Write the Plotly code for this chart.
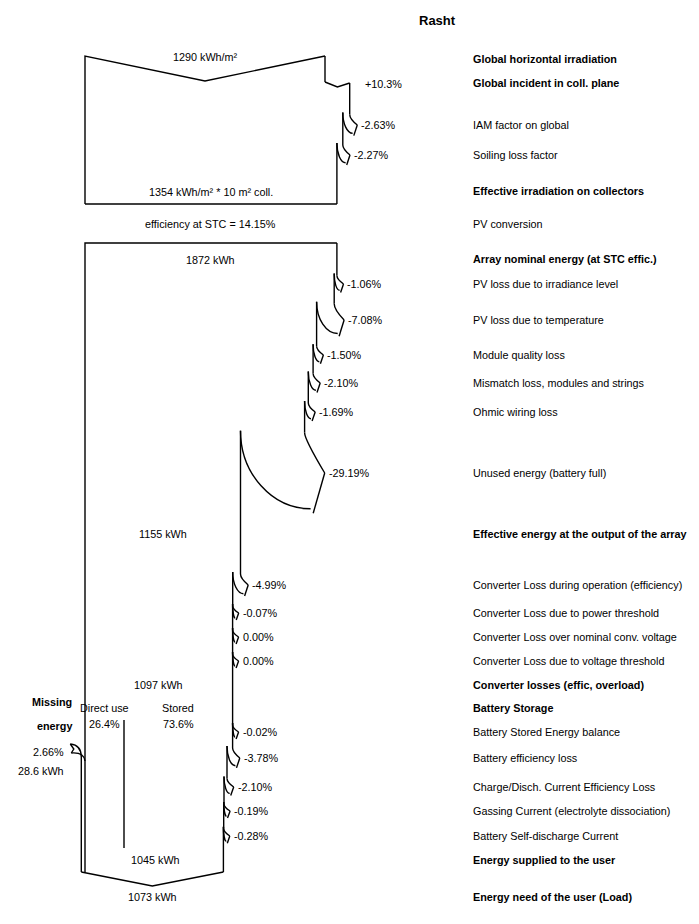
import plotly.graph_objects as go

# ---------------- data ----------------
SITE = "Rasht"
GHI_KWH_M2 = 1290
EFF_IRR_KWH_M2 = 1354
COLL_AREA_M2 = 10
STC_EFF_PCT = 14.15
ARRAY_NOMINAL_KWH = 1872
ARRAY_OUTPUT_KWH = 1155
CONVERTER_OUTPUT_KWH = 1097
SUPPLIED_KWH = 1045
LOAD_KWH = 1073
MISSING_PCT = 2.66
MISSING_KWH = 28.6
DIRECT_USE_PCT = 26.4
STORED_PCT = 73.6

IRR_LABELS = ["Global incident in coll. plane", "IAM factor on global", "Soiling loss factor"]
IRR_PCTS = [10.3, -2.63, -2.27]

ARRAY_LABELS = ["PV loss due to irradiance level", "PV loss due to temperature",
                "Module quality loss", "Mismatch loss, modules and strings",
                "Ohmic wiring loss", "Unused energy (battery full)"]
ARRAY_PCTS = [-1.06, -7.08, -1.50, -2.10, -1.69, -29.19]

CONV_LABELS = ["Converter Loss during operation (efficiency)", "Converter Loss due to power threshold",
               "Converter Loss over nominal conv. voltage", "Converter Loss due to voltage threshold"]
CONV_PCTS = [-4.99, -0.07, 0.00, 0.00]

BATT_LABELS = ["Battery Stored Energy balance", "Battery efficiency loss",
               "Charge/Disch. Current Efficiency Loss", "Gassing Current (electrolyte dissociation)",
               "Battery Self-discharge Current"]
BATT_PCTS = [-0.02, -3.78, -2.10, -0.19, -0.28]

# ---------------- layout ----------------
W, H = 699, 924
X0 = 85.0          # left edge of the flow
W0 = 240.0         # drawn width of the global horizontal irradiation
LABEL_X = 471
FONT = "Liberation Sans, Arial, sans-serif"
FS = 10.8
LW = 1.4
BOLD_ROWS = {"Global incident in coll. plane"}

Y_TITLE = 20
Y_TOP, Y_V, Y_GHI_TXT, Y_GHI = 56, 81, 57, 59
Y_IRR_ROWS = [83, 125, 155]
Y_EFF, Y_BOX1_BOT, Y_PVCONV, Y_BOX2_TOP, Y_ARR_NOM = 191, 204, 224, 243, 260
Y_ARRAY_ROWS = [284, 320, 355, 383, 412, 473]
Y_ARR_OUT = 534
Y_CONV_ROWS = [585, 613, 637, 661]
Y_CONV_OUT = 685
Y_BATT = 708
Y_SPLIT_TXT1, Y_SPLIT_TXT2 = 708, 724
Y_DIV_TOP, Y_DIV_BOT = 720, 848
Y_BATT_ROWS = [732, 758, 787, 811, 836]
Y_MISSING = 752
Y_SUPPLIED, Y_BOTTOM, Y_V_BOTTOM, Y_LOAD = 860, 872, 886, 897

paths = []
anns = []


def txt(x, y, s, bold=False, anchor="left", size=FS):
    anns.append(dict(x=x, y=y, xref="x", yref="y", text=f"<b>{s}</b>" if bold else s,
                     showarrow=False, xanchor=anchor, yanchor="middle",
                     font=dict(family=FONT, size=size, color="#000")))


def f(v):
    return f"{v:.1f}"


def vline(x, y1, y2):
    if y2 > y1:
        paths.append(f"M{f(x)},{f(y1)} L{f(x)},{f(y2)}")


def loss_arrow(xp, xn, yt):
    L = xp - xn
    ys = yt - (9 + 0.52 * L)
    xt = xp + 6 + 0.22 * L
    y0 = ys + 2
    k = max(0.15, 0.45 - 0.0045 * L)
    paths.append(f"M{f(xp)},{f(y0)} Q{f(xp)},{f(y0 + k * (yt - y0))} {f(xt)},{f(yt)}")
    xa, ya = xp + 3.5 + 0.08 * L, yt + 7 + 0.52 * L
    paths.append(f"M{f(xt)},{f(yt)} L{f(xa)},{f(ya)}")
    xe, ye = xp + 2.5 + 0.055 * L, yt + 5 + 0.48 * L
    paths.append(f"M{f(xn)},{f(ys)} C{f(xn)},{f(ys + 0.55 * (ye - ys))} "
                 f"{f(xe - 0.55 * (xe - xn))},{f(ye)} {f(xe)},{f(ye)}")
    return ys, xt


def run_steps(cur, seg, labels, pcts, rows):
    for lab, pct, yt in zip(labels, pcts, rows):
        width = cur - X0
        delta = width * pct / 100.0
        txt(LABEL_X, yt, lab, bold=lab in BOLD_ROWS)
        if pct > 0:
            vline(cur, seg, yt - 1)
            paths.append(f"M{f(cur)},{f(yt - 1)} L{f(cur + delta / 2)},{f(yt + 4)} L{f(cur + delta)},{f(yt)}")
            cur += delta
            seg = yt
            txt(cur + 13, yt + 1, f"+{pct:.1f}%")
        else:
            xn = cur + delta
            ys, xt = loss_arrow(cur, xn, yt)
            vline(cur, seg, ys + 2)
            txt(xt + 2, yt, f"{pct:.2f}%")
            cur, seg = xn, ys
    return cur, seg


# title
txt(437, Y_TITLE, SITE, bold=True, anchor="center", size=13)

# ---- irradiation box ----
cur = X0 + W0
paths.append(f"M{f(X0)},{f(Y_BOX1_BOT)} L{f(X0)},{f(Y_TOP)} L{f(X0 + W0 / 2)},{f(Y_V)} L{f(cur)},{f(Y_TOP)}")
txt(X0 + W0 / 2, Y_GHI_TXT, f"{GHI_KWH_M2} kWh/m²", anchor="center")
txt(LABEL_X, Y_GHI, "Global horizontal irradiation", bold=True)
cur, seg = run_steps(cur, Y_TOP, IRR_LABELS, IRR_PCTS, Y_IRR_ROWS)
vline(cur, seg, Y_BOX1_BOT)
paths.append(f"M{f(X0)},{f(Y_BOX1_BOT)} L{f(cur)},{f(Y_BOX1_BOT)}")
mid = (X0 + cur) / 2
txt(mid, Y_EFF + 1, f"{EFF_IRR_KWH_M2} kWh/m² * {COLL_AREA_M2} m² coll.", anchor="center")
txt(LABEL_X, Y_EFF, "Effective irradiation on collectors", bold=True)
txt(mid, Y_PVCONV, f"efficiency at STC = {STC_EFF_PCT:.2f}%", anchor="center")
txt(LABEL_X, Y_PVCONV, "PV conversion")

# ---- energy box ----
paths.append(f"M{f(X0)},{f(Y_BOTTOM)} L{f(X0)},{f(Y_BOX2_TOP)} L{f(cur)},{f(Y_BOX2_TOP)}")
txt(mid, Y_ARR_NOM, f"{ARRAY_NOMINAL_KWH} kWh", anchor="center")
txt(LABEL_X, Y_ARR_NOM - 1, "Array nominal energy (at STC effic.)", bold=True)
seg = Y_BOX2_TOP
cur, seg = run_steps(cur, seg, ARRAY_LABELS, ARRAY_PCTS, Y_ARRAY_ROWS)
txt((X0 + cur) / 2, Y_ARR_OUT, f"{ARRAY_OUTPUT_KWH} kWh", anchor="center")
txt(LABEL_X, Y_ARR_OUT, "Effective energy at the output of the array", bold=True)

cur, seg = run_steps(cur, seg, CONV_LABELS, CONV_PCTS, Y_CONV_ROWS)
txt((X0 + cur) / 2, Y_CONV_OUT, f"{CONVERTER_OUTPUT_KWH} kWh", anchor="center")
txt(LABEL_X, Y_CONV_OUT, "Converter losses (effic, overload)", bold=True)

# battery split
txt(LABEL_X, Y_BATT, "Battery Storage", bold=True)
bw = cur - X0
xdiv = X0 + bw * DIRECT_USE_PCT / 100.0
vline(xdiv, Y_DIV_TOP, Y_DIV_BOT)
txt((X0 + xdiv) / 2, Y_SPLIT_TXT1, "Direct use", anchor="center")
txt((X0 + xdiv) / 2, Y_SPLIT_TXT2, f"{DIRECT_USE_PCT:.1f}%", anchor="center")
txt((xdiv + cur) / 2, Y_SPLIT_TXT1, "Stored", anchor="center")
txt((xdiv + cur) / 2, Y_SPLIT_TXT2, f"{STORED_PCT:.1f}%", anchor="center")

cur, seg = run_steps(cur, seg, BATT_LABELS, BATT_PCTS, Y_BATT_ROWS)
vline(cur, seg, Y_BOTTOM)

# missing energy (gain on the left side)
xl = X0 - (cur - X0) * MISSING_PCT / 100.0
ym = Y_MISSING
paths.append(f"M{f(xl - 11)},{f(ym - 8)} Q{f(xl)},{f(ym - 7)} {f(xl)},{f(ym + 5)}")
paths.append(f"M{f(xl - 11)},{f(ym - 8)} L{f(xl - 7.5)},{f(ym - 3)} L{f(xl - 10)},{f(ym + 1)}")
paths.append(f"M{f(xl - 10)},{f(ym + 1)} Q{f(X0 - 1)},{f(ym)} {f(X0)},{f(ym + 9)}")
vline(xl, ym + 5, Y_BOTTOM)
txt(52, 702, "Missing", bold=True, anchor="center")
txt(54, 726, "energy", bold=True, anchor="center")
txt(xl - 15, ym, f"{MISSING_PCT:.2f}%", anchor="right")
txt(xl - 15, ym + 19, f"{MISSING_KWH:.1f} kWh", anchor="right")

# bottom
paths.append(f"M{f(xl)},{f(Y_BOTTOM)} L{f((xl + cur) / 2)},{f(Y_V_BOTTOM)} L{f(cur)},{f(Y_BOTTOM)}")
txt((X0 + cur) / 2 + 1, Y_SUPPLIED, f"{SUPPLIED_KWH} kWh", anchor="center")
txt(LABEL_X, Y_SUPPLIED, "Energy supplied to the user", bold=True)
txt((xl + cur) / 2, Y_LOAD, f"{LOAD_KWH} kWh", anchor="center")
txt(LABEL_X, Y_LOAD, "Energy need of the user (Load)", bold=True)

shapes = [dict(type="path", path=p, xref="x", yref="y",
               line=dict(color="#000", width=LW), fillcolor="rgba(0,0,0,0)") for p in paths]

fig = go.Figure(go.Scatter(x=[], y=[], hoverinfo="skip", showlegend=False))
fig.update_layout(
    width=W, height=H, margin=dict(l=0, r=0, t=0, b=0),
    paper_bgcolor="white", plot_bgcolor="white",
    xaxis=dict(range=[0, W], visible=False, fixedrange=True),
    yaxis=dict(range=[H, 0], visible=False, fixedrange=True),
    shapes=shapes, annotations=anns, showlegend=False,
)
fig.write_html("out.html", post_script="document.body.style.margin='0px';",
               config={"displayModeBar": False})
